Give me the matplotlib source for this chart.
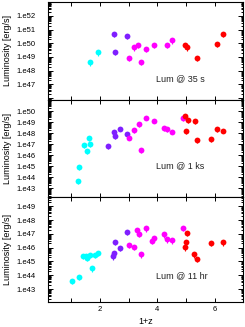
import numpy as np
import matplotlib
matplotlib.use("Agg")
import matplotlib.pyplot as plt
from matplotlib.ticker import FixedLocator, FuncFormatter, NullFormatter

plt.rcParams['font.family'] = ['Liberation Sans', 'DejaVu Sans']

CYAN, PURPLE, MAGENTA, RED = "#00ffff", "#7f1fff", "#ff00ff", "#ff0000"

# panel 1: Lum @ 35 s  (log10 luminosity)
z1_cyan = [1.66, 1.94]
l1_cyan = [48.61, 49.34]
z1_purple = [2.49, 2.52, 2.94]
l1_purple = [50.70, 49.39, 50.56]
z1_magenta = [3.03, 3.20, 3.34, 3.44, 3.60, 3.89, 4.34, 4.52]
l1_magenta = [48.95, 49.71, 49.90, 48.65, 49.61, 49.90, 49.88, 50.22]
z1_red = [4.98, 5.05, 5.40, 6.09, 6.29]
l1_red = [49.85, 49.71, 48.95, 49.95, 50.70]

# panel 2: Lum @ 1 ks
z2_cyan = [1.22, 1.26, 1.43, 1.55, 1.61, 1.66]
l2_cyan = [43.64, 44.94, 46.91, 46.39, 47.55, 47.00]
z2_purple = [2.28, 2.49, 2.52, 2.71, 2.94]
l2_purple = [46.82, 48.09, 47.73, 48.42, 47.96]
z2_magenta = [3.03, 3.20, 3.35, 3.44, 3.60, 3.89, 4.22, 4.34, 4.52, 4.90]
l2_magenta = [47.60, 48.27, 48.85, 46.48, 49.42, 49.15, 48.48, 48.36, 48.15, 49.36]
z2_red = [4.96, 5.07, 5.00, 5.30, 5.40, 5.88, 6.09, 6.29]
l2_red = [49.57, 49.18, 48.18, 49.09, 47.36, 47.48, 48.36, 48.24]

# panel 3: Lum @ 11 hr
z3_cyan = [1.04, 1.26, 1.42, 1.51, 1.56, 1.65, 1.72, 1.83, 1.94]
l3_cyan = [43.58, 43.89, 45.42, 45.37, 45.27, 45.47, 44.52, 45.47, 45.63]
z3_purple = [2.44, 2.48, 2.52, 2.71, 2.95]
l3_purple = [45.37, 45.63, 46.41, 46.00, 47.13]
z3_magenta = [3.02, 3.20, 3.29, 3.35, 3.44, 3.61, 3.80, 3.89, 4.22, 4.33, 4.51, 4.89]
l3_magenta = [46.19, 46.05, 47.26, 46.99, 45.52, 47.40, 46.50, 46.72, 46.97, 46.61, 46.53, 47.45]
z3_red = [5.03, 5.00, 4.96, 5.27, 5.39, 5.88, 6.28]
l3_red = [47.08, 46.43, 46.02, 45.52, 45.20, 46.34, 46.39]

panels = [
    dict(series=[(z1_cyan, l1_cyan, CYAN), (z1_purple, l1_purple, PURPLE),
                 (z1_magenta, l1_magenta, MAGENTA), (z1_red, l1_red, RED)],
         ylim=(45.85, 53.06), labels=range(47, 53), text="Lum @ 35 s",
         rect=[48.3, 1.5, 243.3, 100], ty=0.213),
    dict(series=[(z2_cyan, l2_cyan, CYAN), (z2_purple, l2_purple, PURPLE),
                 (z2_magenta, l2_magenta, MAGENTA), (z2_red, l2_red, RED)],
         ylim=(42.2, 51.03), labels=range(43, 51), text="Lum @ 1 ks",
         rect=[48.3, 100, 243.3, 197], ty=0.32),
    dict(series=[(z3_cyan, l3_cyan, CYAN), (z3_purple, l3_purple, PURPLE),
                 (z3_magenta, l3_magenta, MAGENTA), (z3_red, l3_red, RED)],
         ylim=(42.06, 49.67), labels=range(43, 50), text="Lum @ 11 hr",
         rect=[48.3, 197, 243.3, 302], ty=0.248),
]

W, H = 245, 327
fig = plt.figure(figsize=(W / 100, H / 100), dpi=100)

for i, p in enumerate(panels):
    x0, y0, x1, y1 = p["rect"]
    ax = fig.add_axes([x0 / W, 1 - y1 / H, (x1 - x0) / W, (y1 - y0) / H])
    for z, l, c in p["series"]:
        lum = 10 ** np.array(l)
        lo = lum - 10 ** (np.array(l) - 0.25)
        ax.errorbar(z, lum, yerr=[lo, np.zeros_like(lo)], fmt="o", ms=4.2,
                    color=c, ecolor=c, elinewidth=0.8, capsize=0, mew=0)
    ax.set_yscale("log")
    ax.set_xlim(0.2, 7)
    ax.set_ylim(10 ** p["ylim"][0], 10 ** p["ylim"][1])

    dec = np.arange(int(np.floor(p["ylim"][0])), int(np.ceil(p["ylim"][1])) + 1)
    ax.yaxis.set_major_locator(FixedLocator(10.0 ** dec))
    minors = [m * 10.0 ** d for d in dec for m in range(2, 10)]
    ax.yaxis.set_minor_locator(FixedLocator(minors))
    lab = set(p["labels"])
    ax.yaxis.set_major_formatter(FuncFormatter(
        lambda v, pos, lab=lab: "1.e%d" % round(np.log10(v)) if round(np.log10(v)) in lab else ""))
    ax.yaxis.set_minor_formatter(NullFormatter())

    ax.xaxis.set_major_locator(FixedLocator([1, 2, 3, 4, 5, 6]))
    if i == 2:
        ax.xaxis.set_major_formatter(FuncFormatter(
            lambda v, pos: "%d" % v if int(v) % 2 == 0 else ""))
    else:
        ax.xaxis.set_major_formatter(NullFormatter())

    ax.tick_params(axis="both", which="both", direction="in", top=True, right=True,
                   labelsize=5.5, width=0.7)
    ax.tick_params(axis="y", which="major", length=3.5, pad=9)
    ax.tick_params(axis="y", which="minor", length=1.8)
    ax.tick_params(axis="x", which="major", length=3, pad=3)
    for s in ax.spines.values():
        s.set_linewidth(0.8)

    ax.text(3.95, p["ty"], p["text"], transform=ax.get_xaxis_transform(),
            fontsize=6.5, va="center", ha="left", color="#222222")

    fig.text(7 / W, 1 - (y0 + y1) / 2 / H, "Luminosity [erg/s]", rotation=90,
             ha="center", va="center", fontsize=6.5)

fig.text(145.8 / W, 1 - 322 / H, "1+z", ha="center", va="center", fontsize=6.5)

fig.savefig("out.png", dpi=100)
